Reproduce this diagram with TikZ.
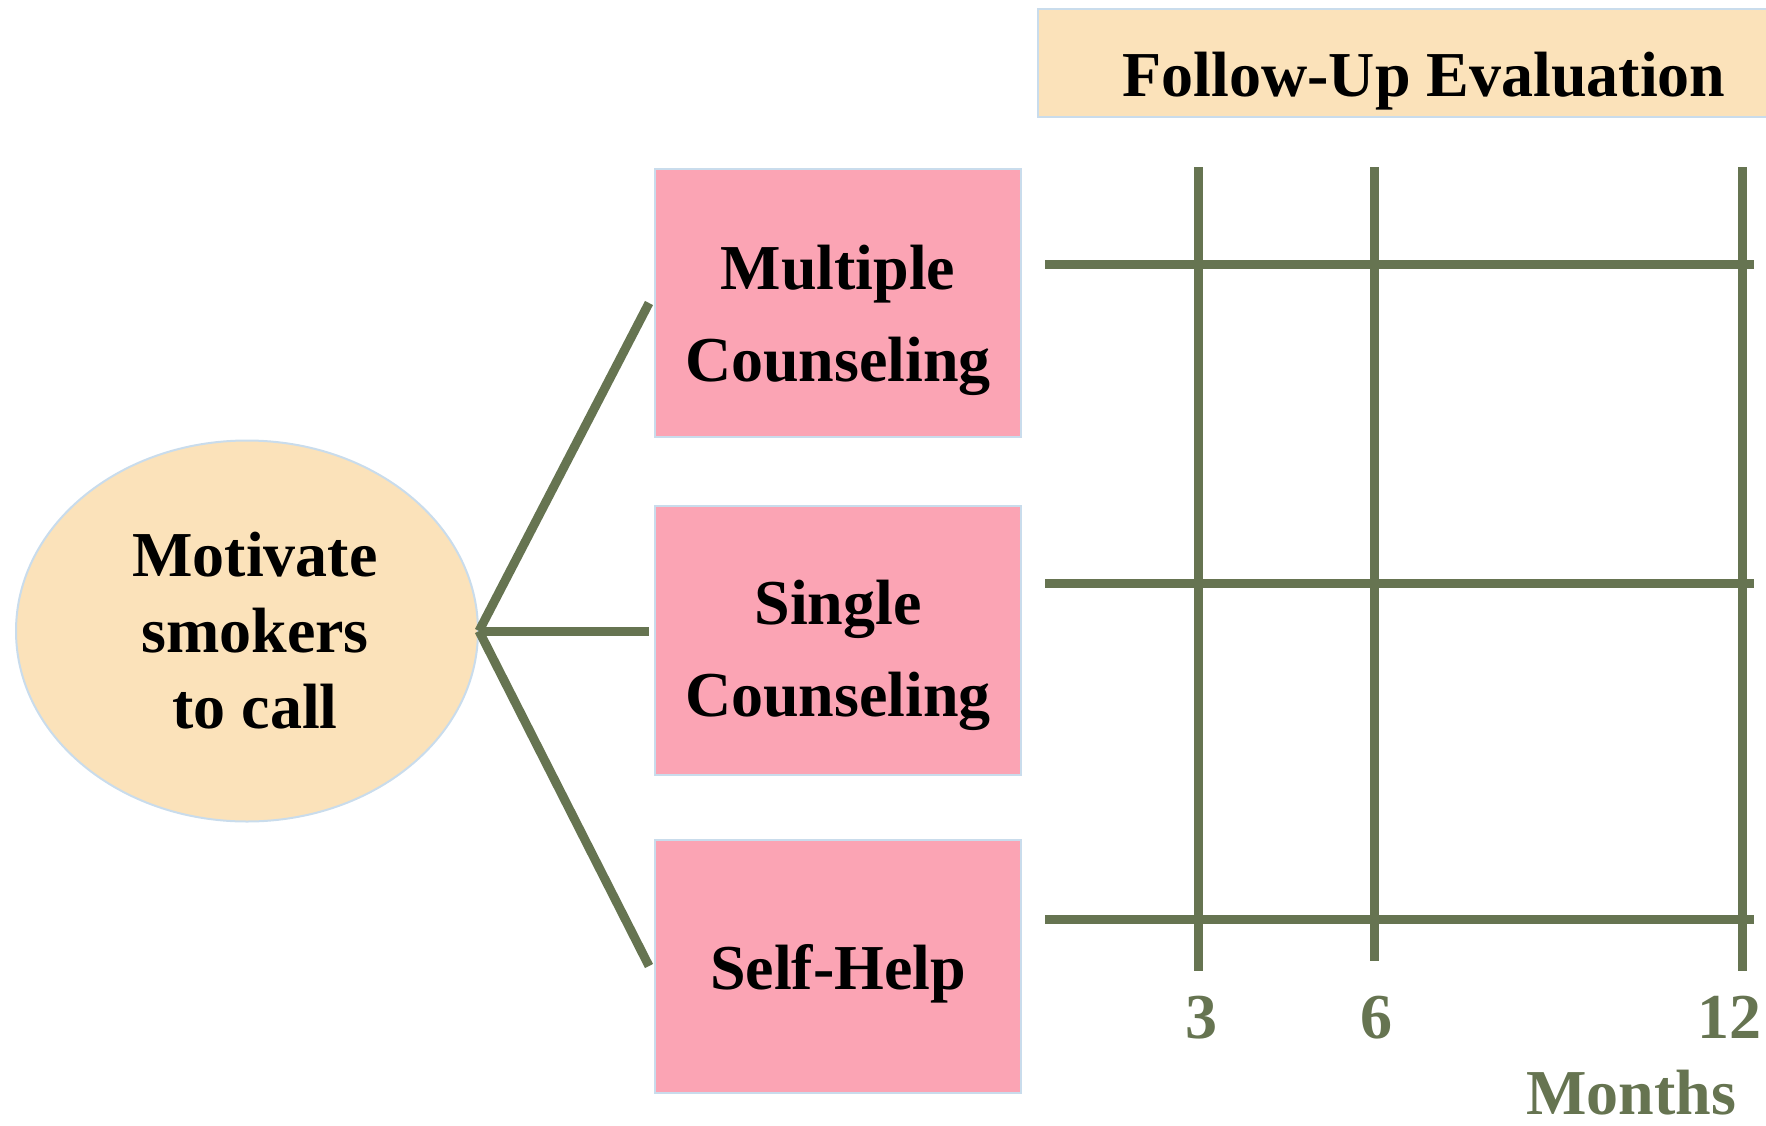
\documentclass[tikz,border=0pt]{standalone}
\usepackage{fontspec}
\setmainfont{Liberation Serif}
\usetikzlibrary{shapes.geometric}
\definecolor{wheatfill}{HTML}{FBE2BA}
\definecolor{pinkfill}{HTML}{FBA4B4}
\definecolor{edgeblue}{HTML}{C9DCEC}
\definecolor{gridgreen}{HTML}{667451}
\tikzset{
  bigtext/.style={font=\bfseries\fontsize{32}{38}\selectfont},
  armbox/.style={draw=edgeblue, line width=1pt, fill=pinkfill, minimum width=183pt,
    inner sep=0pt, align=center, bigtext, font=\bfseries\fontsize{32}{46}\selectfont},
  branch/.style={draw=gridgreen, line width=4.5pt},
  gridline/.style={draw=gridgreen, line width=4.5pt},
  monthlbl/.style={bigtext, text=gridgreen, anchor=base, inner sep=0pt}
}
\begin{document}
\begin{tikzpicture}[x=0.5pt,y=-0.5pt]
        \useasboundingbox (0,0) rectangle (1766,1125);
        % header
        \node[draw=edgeblue, line width=1pt, fill=wheatfill, minimum width=386pt, minimum height=54pt, inner sep=0pt] (followbox) at (1424,63) {};
        \node[bigtext, anchor=base, inner sep=0pt] (follow) at (1424,96) {Follow-Up Evaluation};
        % recruitment
        \node[ellipse, draw=edgeblue, line width=1pt, fill=wheatfill, minimum width=231pt, minimum height=190.5pt, inner sep=0pt, align=center, bigtext] (motivate) at (247,631) {\hspace*{8pt}Motivate\\\hspace*{8pt}smokers\\\hspace*{8pt}to call};
        % study arms
        \node[armbox, minimum height=134pt] (multi) at (838,303) {\rule{0pt}{40pt}Multiple\\Counseling};
        \node[armbox, minimum height=134.5pt] (single) at (838,640) {\rule{0pt}{38pt}Single\\Counseling};
        \node[armbox, minimum height=126.5pt] (self) at (838,966) {\rule{0pt}{30pt}Self-Help};
        \draw[branch] (motivate.east) -- ([xshift=-2.5pt]multi.west);
        \draw[branch] (motivate.east) -- ([xshift=-2.5pt]motivate.east -| single.west);
        \draw[branch] (motivate.east) -- ([xshift=-2.5pt]self.west);
        % follow-up grid
        \foreach \y in {264,583,919}
            \draw[gridline] (1045,\y) -- (1754,\y);
        \draw[gridline] (1198,167) -- (1198,971);
        \draw[gridline] (1374,167) -- (1374,961);
        \draw[gridline] (1742,167) -- (1742,971);
        \node[monthlbl] (m3) at (1201,1038) {3};
        \node[monthlbl] (m6) at (1376,1038) {6};
        \node[monthlbl] (m12) at (1729,1038) {12};
        \node[monthlbl] (months) at (1631,1114) {Months};
    \end{tikzpicture}
\end{document}
